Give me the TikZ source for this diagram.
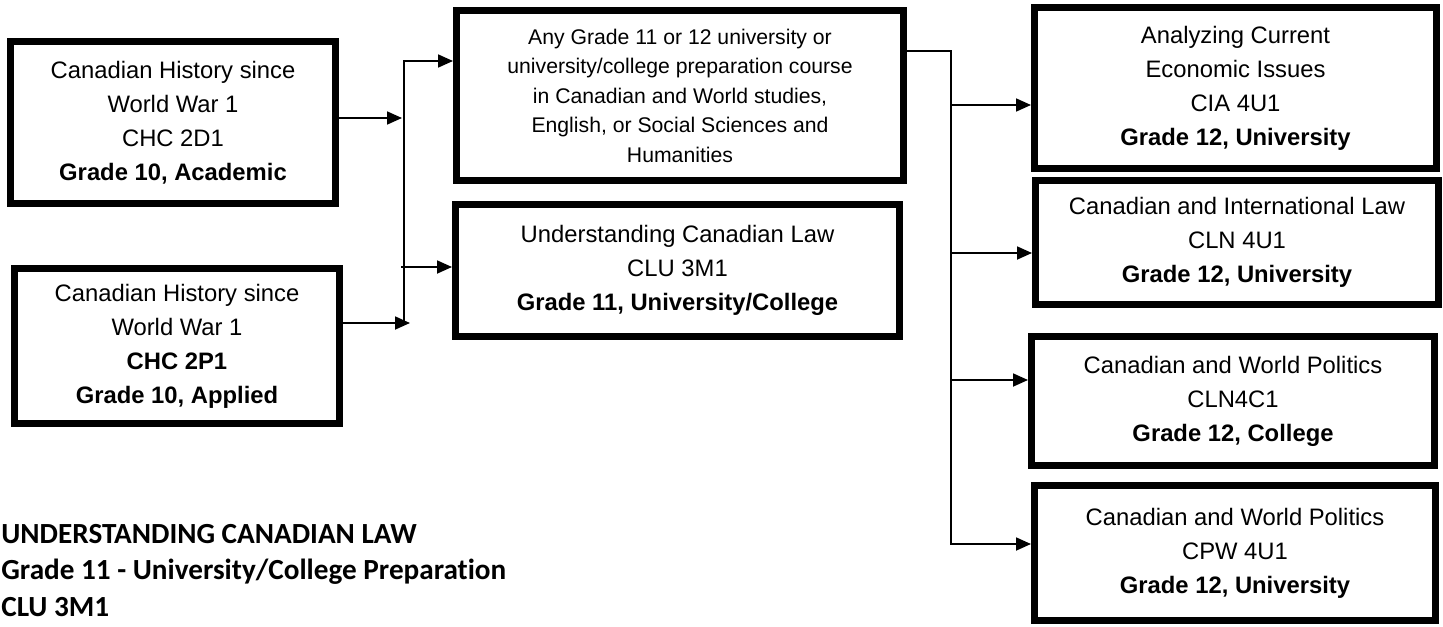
\documentclass[tikz,border=0pt]{standalone}
\usepackage{fontspec}
\setmainfont{Liberation Sans}
\newfontfamily\footfont[Ligatures={NoCommon}]{Carlito}
\usetikzlibrary{arrows.meta}

\begin{document}
\begin{tikzpicture}[x=0.5pt,y=-0.5pt,
  box/.style={draw, line width=3.3pt, inner sep=0pt, align=center,
              font=\fontsize{11.9}{17}\selectfont},
  smallbox/.style={box, font=\fontsize{10.6}{14.75}\selectfont},
  conn/.style={line width=0.9pt},
  arr/.style={conn, -{Triangle[length=7.5pt,width=6.5pt]}},
  foot/.style={anchor=base west, inner sep=0pt,
               font=\footfont\bfseries\fontsize{14.6}{18}\selectfont},
]
\useasboundingbox (0,0) rectangle (1443,626);

% Grade 10 courses
\node[box, minimum width=162.7pt, minimum height=81.2pt] (A) at (173,122.5)
  {Canadian History since\\World War 1\\CHC 2D1\\\textbf{Grade 10, Academic}};
\node[box, minimum width=162.7pt, minimum height=77.7pt] (B) at (177,346)
  {Canadian History since\\World War 1\\\textbf{CHC 2P1}\\\textbf{Grade 10, Applied}};

% Grade 11 options
\node[smallbox, minimum width=223.7pt, minimum height=85.2pt] (M1) at (680,95.5)
  {Any Grade 11 or 12 university or\\university/college preparation course\\in Canadian and World studies,\\English, or Social Sciences and\\Humanities};
\node[box, minimum width=222.2pt, minimum height=66.2pt] (M2) at (677.5,270.5)
  {Understanding Canadian Law\\CLU 3M1\\\textbf{Grade 11, University/College}};

% Grade 12 courses
\node[box, minimum width=201.2pt, minimum height=80.7pt] (R1) at (1235.5,88)
  {Analyzing Current\\Economic Issues\\CIA 4U1\\\textbf{Grade 12, University}};
\node[box, minimum width=201.7pt, minimum height=62.2pt] (R2) at (1237,242.5)
  {Canadian and International Law\\CLN 4U1\\\textbf{Grade 12, University}};
\node[box, minimum width=201.7pt, minimum height=64.7pt] (R3) at (1233,401)
  {Canadian and World Politics\\CLN4C1\\\textbf{Grade 12, College}};
\node[box, minimum width=200.7pt, minimum height=67.7pt] (R4) at (1235,553)
  {Canadian and World Politics\\CPW 4U1\\\textbf{Grade 12, University}};

% left bus
\coordinate (tA) at (402,118);
\coordinate (tB) at (410,323);
\coordinate (bTop) at (404,61);
\coordinate (bBot) at (404,323);
\coordinate (b2) at (401,267);
\draw[arr] (A.east |- tA) -- (tA);
\draw[arr] (B.east |- tB) -- (tB);
\draw[arr] (bBot) -- (bTop) -- (bTop -| M1.west);
\draw[arr] (b2) -- (b2 -| M2.west);

% right bus
\coordinate (rTop) at (951,51);
\coordinate (rBot) at (951,544);
\coordinate (r1) at (951,105);
\coordinate (r2) at (951,253);
\coordinate (r3) at (951,380);
\draw[arr] (M1.east |- rTop) -- (rTop) -- (rBot) -- (rBot -| R4.west);
\draw[arr] (r1) -- (r1 -| R1.west);
\draw[arr] (r2) -- (r2 -| R2.west);
\draw[arr] (r3) -- (r3 -| R3.west);

% course title
\node[foot] (f1) at (1,543) {UNDERSTANDING CANADIAN LAW};
\node[foot] (f2) at (1,579) {Grade 11 - University/College Preparation};
\node[foot] (f3) at (1,616) {CLU 3M1};
\end{tikzpicture}
\end{document}
